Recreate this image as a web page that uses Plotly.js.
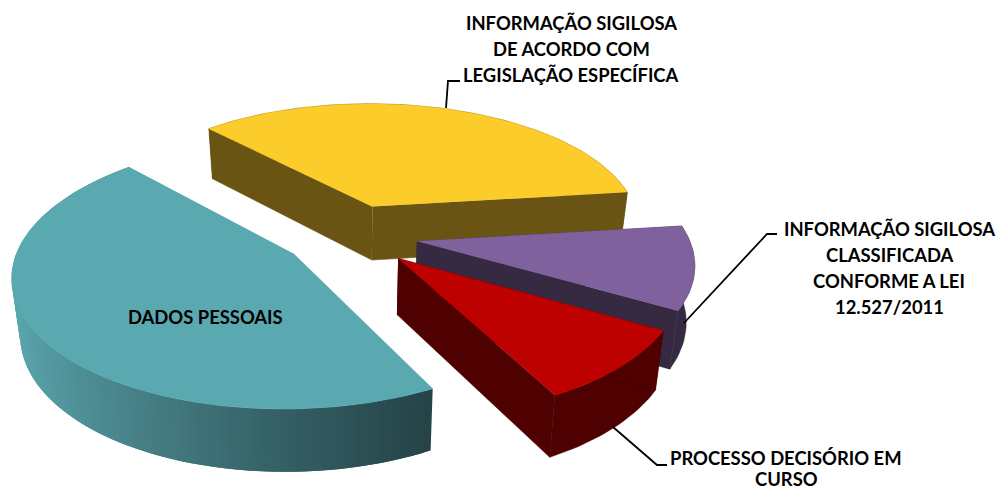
<!DOCTYPE html>
<html><head><meta charset="utf-8">
<script src="https://cdn.plot.ly/plotly-3.0.1.min.js"></script>
<style>html,body{margin:0;padding:0;background:#fff;overflow:hidden}#c{width:998px;height:490px}</style>
</head><body><div id="c"></div>
<script>
// Data, in pie order starting from the rotation angle
const categories = ["INFORMAÇÃO SIGILOSA DE ACORDO COM LEGISLAÇÃO ESPECÍFICA",
  "INFORMAÇÃO SIGILOSA CLASSIFICADA CONFORME A LEI 12.527/2011",
  "PROCESSO DECISÓRIO EM CURSO", "DADOS PESSOAIS"];
const values = [35, 10.3, 9, 45.7];
const topColors = ["#fccc2b", "#7f629d", "#bd0000", "#5aa9b1"];
const wallColors = ["#695414", "#352a42", "#4f0000", null];

// 3D view of the pie
const startAngle = 317, explode = 0.25;
const Cx = 350, Cy = 235, A = 271, B = 126, K = 0.15;
const depth = 55, depthPow = 0.7, baseShrink = 0.975;
const deg = Math.PI / 180;

function project(u, v, bottom) {
  const s = 1 / (1 - K * v);
  let x = Cx + A * u * s, y = Cy + B * v * s;
  if (bottom) { x = Cx + (x - Cx) * baseShrink; y += depth * Math.pow(s, depthPow); }
  return [x, y];
}
function rimPoint(th, mid, bottom) {
  const pu = explode * Math.sin(mid), pv = -explode * Math.cos(mid);
  return project(pu + Math.sin(th), pv - Math.cos(th), bottom);
}
function apexPoint(mid, bottom) {
  return project(explode * Math.sin(mid), -explode * Math.cos(mid), bottom);
}
function poly(pts, color, lw) {
  return {type: "scatter", mode: "lines", x: pts.map(p => p[0]), y: pts.map(p => p[1]),
    fill: "toself", fillcolor: color, line: {color: color, width: lw || 0},
    hoverinfo: "skip", showlegend: false};
}
function mix(a, b, t) {
  const c = a.map((v, i) => Math.round(v + (b[i] - v) * t));
  return `rgb(${c[0]},${c[1]},${c[2]})`;
}

const total = values.reduce((a, b) => a + b, 0);
let cur = startAngle;
const slices = values.map(v => { const a0 = cur; cur += v / total * 360; return {a0, a1: cur}; });
const traces = [];
slices.forEach((sl, i) => {
  const t0 = sl.a0 * deg, t1 = sl.a1 * deg, mid = (t0 + t1) / 2;
  const n = Math.max(24, Math.round((sl.a1 - sl.a0) / 1.5));
  const ths = []; for (let j = 0; j <= n; j++) ths.push(t0 + (t1 - t0) * j / n);
  if (wallColors[i]) {
    const c = wallColors[i];
    const top = ths.map(t => rimPoint(t, mid, false));
    const bot = ths.map(t => rimPoint(t, mid, true));
    traces.push(poly(top.concat(bot.slice().reverse()), c, 0.5));
    const ap = apexPoint(mid, false), ab = apexPoint(mid, true);
    traces.push(poly([ap, top[0], bot[0], ab], c, 0.5));
    traces.push(poly([ap, top[n], bot[n], ab], c, 0.5));
  } else {
    // shaded outer wall: each strip runs under the next, so no seams show
    const light = [92, 168, 176], dark = [36, 66, 70];
    for (let j = 0; j < n; j++) {
      const e = Math.min(n, j + 2);
      const a = rimPoint(ths[j], mid, false), b = rimPoint(ths[e], mid, false);
      const c = rimPoint(ths[e], mid, true), d = rimPoint(ths[j], mid, true);
      if (Math.min(a[0], b[0]) > 445) continue;
      const t = Math.max(0, Math.min(1, ((a[0] + b[0]) / 2 - 10) / 425));
      const col = mix(light, dark, Math.pow(t, 0.75));
      traces.push(poly([a, b, c, d], col, 0));
    }
  }
  const face = [apexPoint(mid, false)].concat(ths.map(t => rimPoint(t, mid, false)));
  traces.push(poly(face, topColors[i], 0.5));
});

// Label lines (centre x, centre y in page pixels)
const labelLines = [
  ["INFORMAÇÃO SIGILOSA", 571, 23], ["DE ACORDO COM", 571, 49], ["LEGISLAÇÃO ESPECÍFICA", 571, 75],
  ["INFORMAÇÃO SIGILOSA", 889, 229], ["CLASSIFICADA", 889, 255], ["CONFORME A LEI", 889, 281], ["12.527/2011", 889, 307],
  ["PROCESSO DECISÓRIO EM", 786, 458], ["CURSO", 786, 479],
  ["DADOS PESSOAIS", 205, 317]
];
const leaders = ["M446,108 L448,81 L460,81", "M684,323 L767,234 L777,234", "M613,427 L657,465 L667,465"];

const layout = {
  width: 998, height: 490, margin: {l: 0, r: 0, t: 0, b: 0},
  paper_bgcolor: "#fff", plot_bgcolor: "#fff", showlegend: false,
  xaxis: {range: [0, 998], visible: false, fixedrange: true},
  yaxis: {range: [490, 0], visible: false, fixedrange: true},
  shapes: leaders.map(p => ({type: "path", path: p, xref: "x", yref: "y", line: {color: "#000", width: 1.8}})),
  annotations: labelLines.map(l => ({
    text: l[0], x: l[1], y: l[2], xref: "x", yref: "y", xanchor: "center", yanchor: "middle",
    showarrow: false, font: {family: "Lato, 'Open Sans', sans-serif", size: 18.4, color: "#000", weight: 700}
  }))
};
Plotly.newPlot("c", traces, layout, {displayModeBar: false, staticPlot: true});
</script></body></html>
